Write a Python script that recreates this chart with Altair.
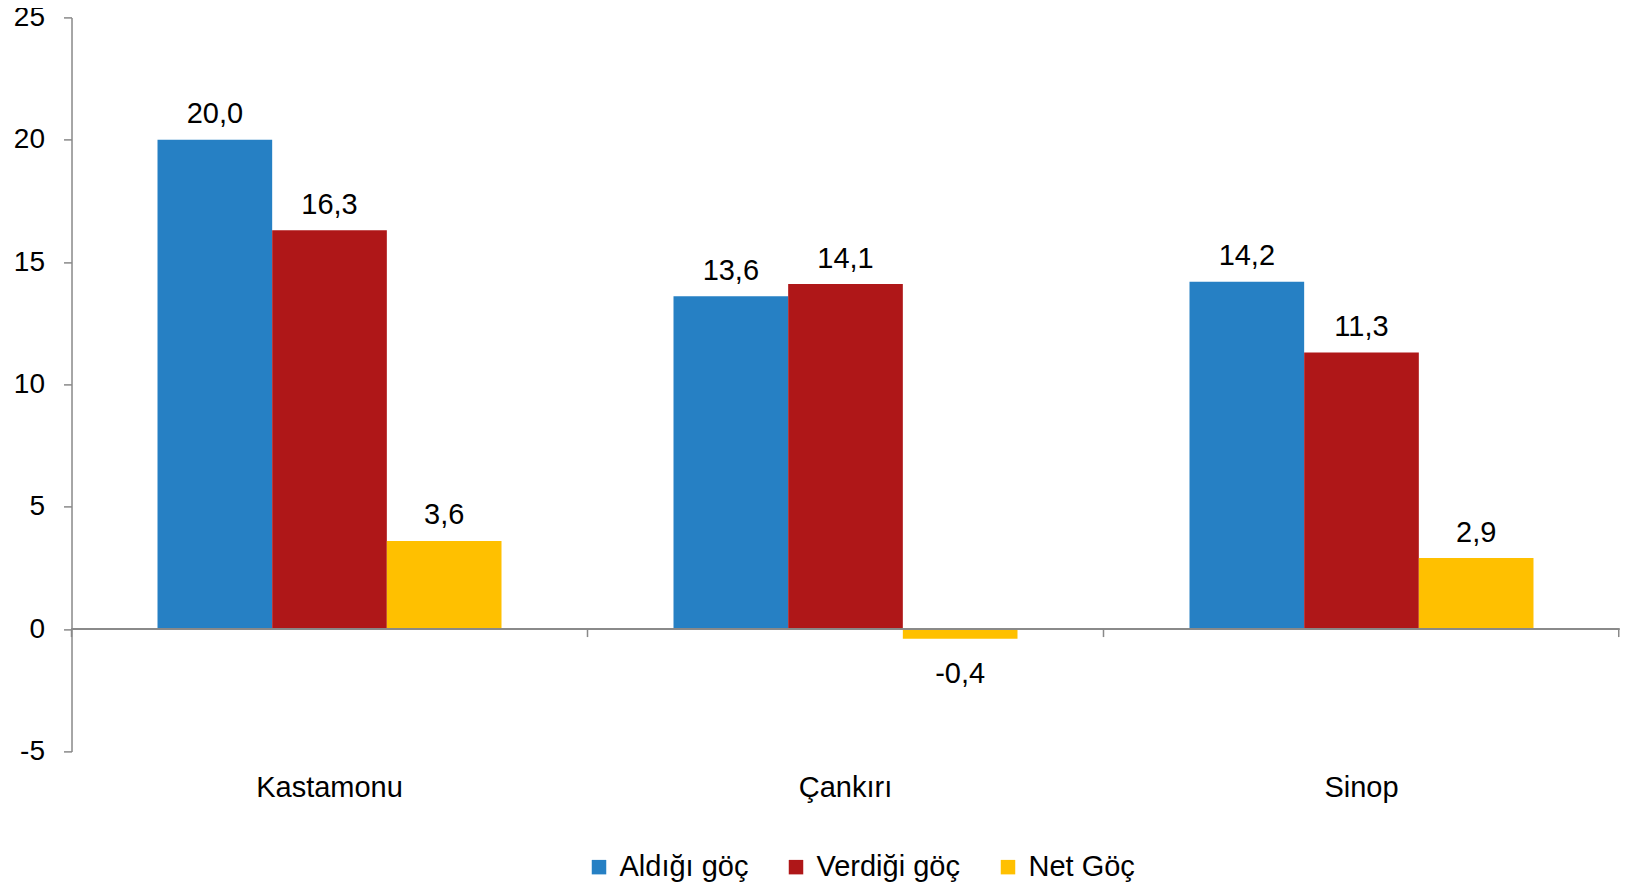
import altair as alt
import pandas as pd

provinces = ["Kastamonu", "Çankırı", "Sinop"]
series = ["Aldığı göç", "Verdiği göç", "Net Göç"]
aldigi = [20.0, 13.6, 14.2]
verdigi = [16.3, 14.1, 11.3]
net = [3.6, -0.4, 2.9]
colors = ["#2680C4", "#AF1718", "#FFC000"]
y_ticks = [-5, 0, 5, 10, 15, 20, 25]

rows = []
for i, p in enumerate(provinces):
    for s, vals in zip(series, [aldigi, verdigi, net]):
        v = vals[i]
        rows.append({"il": p, "seri": s, "deger": v,
                     "etiket": f"{v:.1f}".replace(".", ",")})
df = pd.DataFrame(rows)
df_ticks = pd.DataFrame({"il": provinces})

W, H = 1548, 734
FONT = "Liberation Sans"
FS = 29
FSY = 28
GRAY = "#898989"

x_axis = alt.Axis(title=None, domain=False, ticks=False, labelAngle=0,
                  labelFont=FONT, labelFontSize=FS, labelColor="black",
                  labelPadding=22)
x_scale = alt.Scale(domain=provinces, paddingInner=0, paddingOuter=0)
y_scale = alt.Scale(domain=[-5, 25], nice=False, zero=False)
y_axis = alt.Axis(title=None, values=y_ticks, grid=False, domainColor=GRAY,
                  tickColor=GRAY, tickSize=8, labelPadding=19, domainWidth=1.5,
                  tickWidth=1.5,
                  labelExpr="datum.value + ''", labelFont=FONT,
                  labelFontSize=FSY, labelColor="black")

X = alt.X("il:N", sort=provinces, scale=x_scale, axis=x_axis)
Y = alt.Y("deger:Q", scale=y_scale, axis=y_axis)
XO = alt.XOffset("seri:N", sort=series,
                 scale=alt.Scale(domain=series, paddingInner=0, paddingOuter=0.75))

base = alt.Chart(df)

bars = base.mark_bar().encode(
    x=X, y=Y, xOffset=XO,
    color=alt.Color("seri:N", sort=series,
                    scale=alt.Scale(domain=series, range=colors),
                    legend=alt.Legend(orient="none", legendX=513, legendY=835,
                                      direction="horizontal", title=None,
                                      symbolType="square", symbolSize=210,
                                      symbolStrokeWidth=0, labelFont=FONT,
                                      labelFontSize=FS, labelColor="black",
                                      columnPadding=33, labelOffset=6)),
)

pos_text = base.transform_filter("datum.deger >= 0").mark_text(
    baseline="alphabetic", dy=-16.5, font=FONT, fontSize=FS, color="black"
).encode(x=X, y=Y, xOffset=XO, text="etiket:N")

neg_text = base.transform_filter("datum.deger < 0").mark_text(
    baseline="top", dy=21, font=FONT, fontSize=FS, color="black"
).encode(x=X, y=Y, xOffset=XO, text="etiket:N")

zero_line = alt.Chart(df_ticks).mark_rule(color=GRAY, strokeWidth=1.5).encode(
    x=alt.value(0), x2=alt.value(W), y=alt.datum(0, scale=y_scale)
)

bound_ticks = alt.Chart(df_ticks).mark_rule(color=GRAY, strokeWidth=1.5, y2Offset=8).encode(
    x=alt.X("il:N", sort=provinces, scale=x_scale, axis=x_axis, bandPosition=0),
    y=alt.datum(0), y2=alt.datum(0)
)

end_tick = alt.Chart(df_ticks.head(1)).mark_rule(color=GRAY, strokeWidth=1.5, y2Offset=8).encode(
    x=alt.value(W - 0.75), y=alt.datum(0), y2=alt.datum(0)
)

chart = alt.layer(bars, zero_line, bound_ticks, end_tick, pos_text, neg_text).properties(
    width=W, height=H,
    autosize=alt.AutoSizeParams(type="none"),
    padding={"left": 63.5, "top": 9.4, "right": 0.5, "bottom": 131},
    background="white",
).configure_view(stroke=None)

chart.save("out.html", embed_options={"renderer": "svg", "actions": False})
